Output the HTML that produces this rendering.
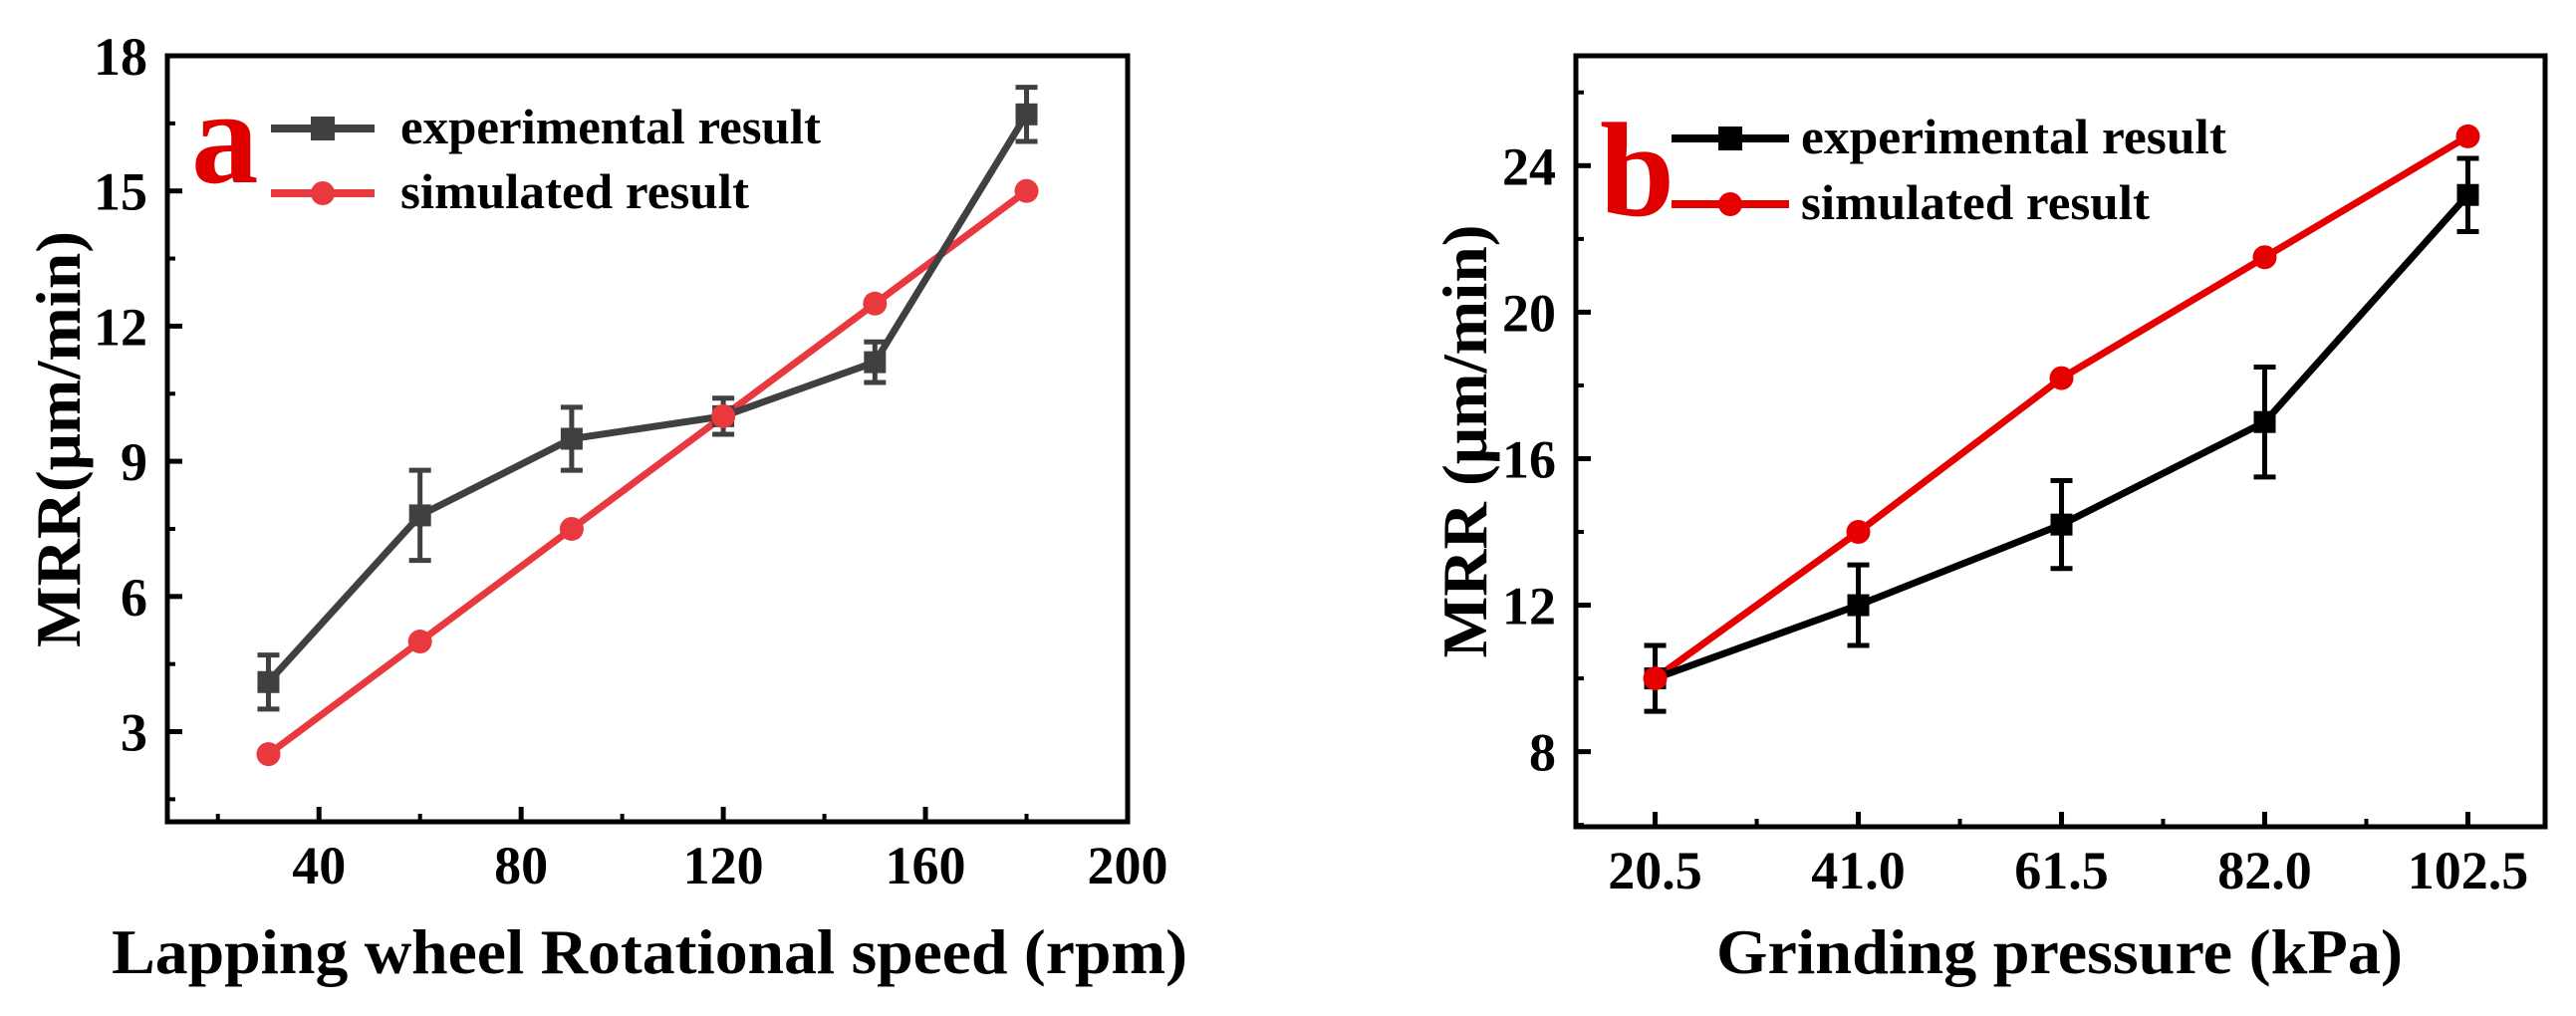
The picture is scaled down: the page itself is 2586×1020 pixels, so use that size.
<!DOCTYPE html>
<html><head><meta charset="utf-8"><style>
html,body{margin:0;padding:0;background:#fff}
svg{display:block;font-family:"Liberation Serif",serif;font-weight:bold}
</style></head><body>
<svg id="fig" width="2586" height="1020" viewBox="0 0 2586 1020" xmlns="http://www.w3.org/2000/svg"></svg>
<script>
// Chart a data
const aX = [30, 60, 90, 120, 150, 180];
const aExp = [4.1, 7.8, 9.5, 10.0, 11.2, 16.7];
const aErr = [0.6, 1.0, 0.7, 0.4, 0.45, 0.6];
const aSim = [2.5, 5.0, 7.5, 10.0, 12.5, 15.0];
const aXTicks = [40, 80, 120, 160, 200];
const aYTicks = [3, 6, 9, 12, 15, 18];
// Chart b data
const bCats = ["20.5", "41.0", "61.5", "82.0", "102.5"];
const bExp = [10.0, 12.0, 14.2, 17.0, 23.2];
const bErr = [0.9, 1.1, 1.2, 1.5, 1.0];
const bSim = [10.0, 14.0, 18.2, 21.5, 24.8];
const bYTicks = [8, 12, 16, 20, 24];

const NS = "http://www.w3.org/2000/svg";
const svg = document.getElementById("fig");
function mk(tag, attrs, parent) {
  const e = document.createElementNS(NS, tag);
  for (const k in attrs) e.setAttribute(k, attrs[k]);
  (parent || svg).appendChild(e);
  return e;
}

function drawPanel(o) {
  const g = mk("g", {});
  
  
  const sx = v => o.L + (v - o.xmin) / (o.xmax - o.xmin) * (o.R - o.L);
  const sy = v => o.B - (v - o.ymin) / (o.ymax - o.ymin) * (o.B - o.T);
  const fr = mk("rect", {x: o.L, y: o.T, width: o.R - o.L, height: o.B - o.T, fill: "none", stroke: "#000", "stroke-width": 5}, g);
  
  
  o.yTicks.forEach(t => {
    const y = sy(t);
    mk("line", {x1: o.L, x2: o.L + 15, y1: y, y2: y, stroke: "#000", "stroke-width": 5}, g);
    const tx = mk("text", {x: o.L - 20, y: y + 19, "text-anchor": "end", "font-size": 54}, g);
    tx.textContent = t;
    
    
    const m = t - o.yStep / 2;
    if (m > o.ymin) mk("line", {x1: o.L, x2: o.L + 8, y1: sy(m), y2: sy(m), stroke: "#000", "stroke-width": 4}, g);
  });
  const lastM = o.yTicks[o.yTicks.length - 1] + o.yStep / 2;
  if (lastM < o.ymax) mk("line", {x1: o.L, x2: o.L + 8, y1: sy(lastM), y2: sy(lastM), stroke: "#000", "stroke-width": 4}, g);
  o.xTicks.forEach((t, i) => {
    const x = sx(t);
    mk("line", {x1: x, x2: x, y1: o.B, y2: o.B - 15, stroke: "#000", "stroke-width": 5}, g);
    const tx = mk("text", {x: x, y: o.xlY, "text-anchor": "middle", "font-size": 54}, g);
    tx.textContent = o.xLabels[i];
    
    
  });
  o.xMinor.forEach(t => {
    const x = sx(t);
    mk("line", {x1: x, x2: x, y1: o.B, y2: o.B - 8, stroke: "#000", "stroke-width": 4}, g);
  });
  const xt = mk("text", {x: o.xtX, y: 977, "font-size": 64, textLength: o.xtW, lengthAdjust: "spacingAndGlyphs"}, g);
  xt.textContent = o.xTitle;
  
  
  const yt = mk("text", {x: 0, y: 0, "text-anchor": "middle", "font-size": 64, textLength: o.ytW, lengthAdjust: "spacingAndGlyphs", transform: `translate(${o.ytX},${o.ytC}) rotate(-90)`}, g);
  yt.textContent = o.yTitle;
  
  
  const simPts = o.simY.map((v, i) => sx(o.xs[i]) + "," + sy(v)).join(" ");
  const sl = mk("polyline", {points: simPts, fill: "none", stroke: o.simColor, "stroke-width": 7}, g);
  
  
  const expPts = o.expY.map((v, i) => sx(o.xs[i]) + "," + sy(v)).join(" ");
  const el = mk("polyline", {points: expPts, fill: "none", stroke: o.expColor, "stroke-width": 7}, g);
  
  
  o.expY.forEach((v, i) => {
    const x = sx(o.xs[i]);
    const y1 = sy(v + o.err[i]), y2 = sy(v - o.err[i]);
    const eb = mk("path", {d: `M${x},${y1}V${y2}M${x - 11},${y1}H${x + 11}M${x - 11},${y2}H${x + 11}`, stroke: o.expColor, "stroke-width": 5, fill: "none"}, g);
    
    
    const m = mk("rect", {x: x - 11, y: sy(v) - 11, width: 22, height: 22, fill: o.expColor}, g);
    
    
  });
  o.simY.forEach((v, i) => {
    const c = mk("circle", {cx: sx(o.xs[i]), cy: sy(v), r: 12, fill: o.simColor}, g);
    
    
  });
  const lg = mk("g", {}, g);
  
  
  const lb = mk("text", {x: o.letX, y: o.letY, "font-size": 135, fill: "#e00000"}, lg);
  lb.textContent = o.letter;
  
  
  [[o.expColor, "experimental result", o.leg1Y, "sq", o.legW1], [o.simColor, "simulated result", o.leg2Y, "ci", o.legW2]].forEach(r => {
    mk("line", {x1: o.legX1, x2: o.legX2, y1: r[2], y2: r[2], stroke: r[0], "stroke-width": 8}, lg);
    const mx = (o.legX1 + o.legX2) / 2;
    if (r[3] === "sq") mk("rect", {x: mx - 12, y: r[2] - 12, width: 24, height: 24, fill: r[0]}, lg);
    else mk("circle", {cx: mx, cy: r[2], r: 12, fill: r[0]}, lg);
    const t = mk("text", {x: o.legTX, y: r[2] + 15, "font-size": 50, textLength: r[4], lengthAdjust: "spacingAndGlyphs"}, lg);
    t.textContent = r[1];
    
    
  });
}

drawPanel({
  name: "chart-a", L: 168, R: 1132, T: 56, B: 825, xmin: 10, xmax: 200, ymin: 1, ymax: 18, yStep: 3,
  xs: aX, expY: aExp, err: aErr, simY: aSim, yTicks: aYTicks,
  xTicks: aXTicks, xLabels: aXTicks.map(String), xMinor: [20, 60, 100, 140, 180], xlY: 887,
  xTitle: "Lapping wheel Rotational speed (rpm)", yTitle: "MRR(μm/min)", xtX: 112, xtW: 1080,
  ytX: 80, ytC: 441, ytW: 418,
  expColor: "#404040", simColor: "#e8393f",
  letter: "a", letX: 192, letY: 183, legX1: 272, legX2: 376, leg1Y: 129, leg2Y: 194,
  legTX: 402, legW1: 422, legW2: 350
});
drawPanel({
  name: "chart-b", L: 1582, R: 2555, T: 56, B: 830, xmin: -0.39, xmax: 4.38, ymin: 5.95, ymax: 27, yStep: 4,
  xs: bCats.map((c, i) => i), expY: bExp, err: bErr, simY: bSim, yTicks: bYTicks,
  xTicks: bCats.map((c, i) => i), xLabels: bCats, xMinor: [0.5, 1.5, 2.5, 3.5], xlY: 892,
  xTitle: "Grinding pressure (kPa)", yTitle: "MRR (μm/min)", xtX: 1723, xtW: 689,
  ytX: 1492, ytC: 443, ytW: 435,
  expColor: "#000000", simColor: "#e60000",
  letter: "b", letX: 1606, letY: 216, legX1: 1678, legX2: 1796, leg1Y: 139, leg2Y: 205,
  legTX: 1808, legW1: 427, legW2: 350
});
</script>
</body></html>
